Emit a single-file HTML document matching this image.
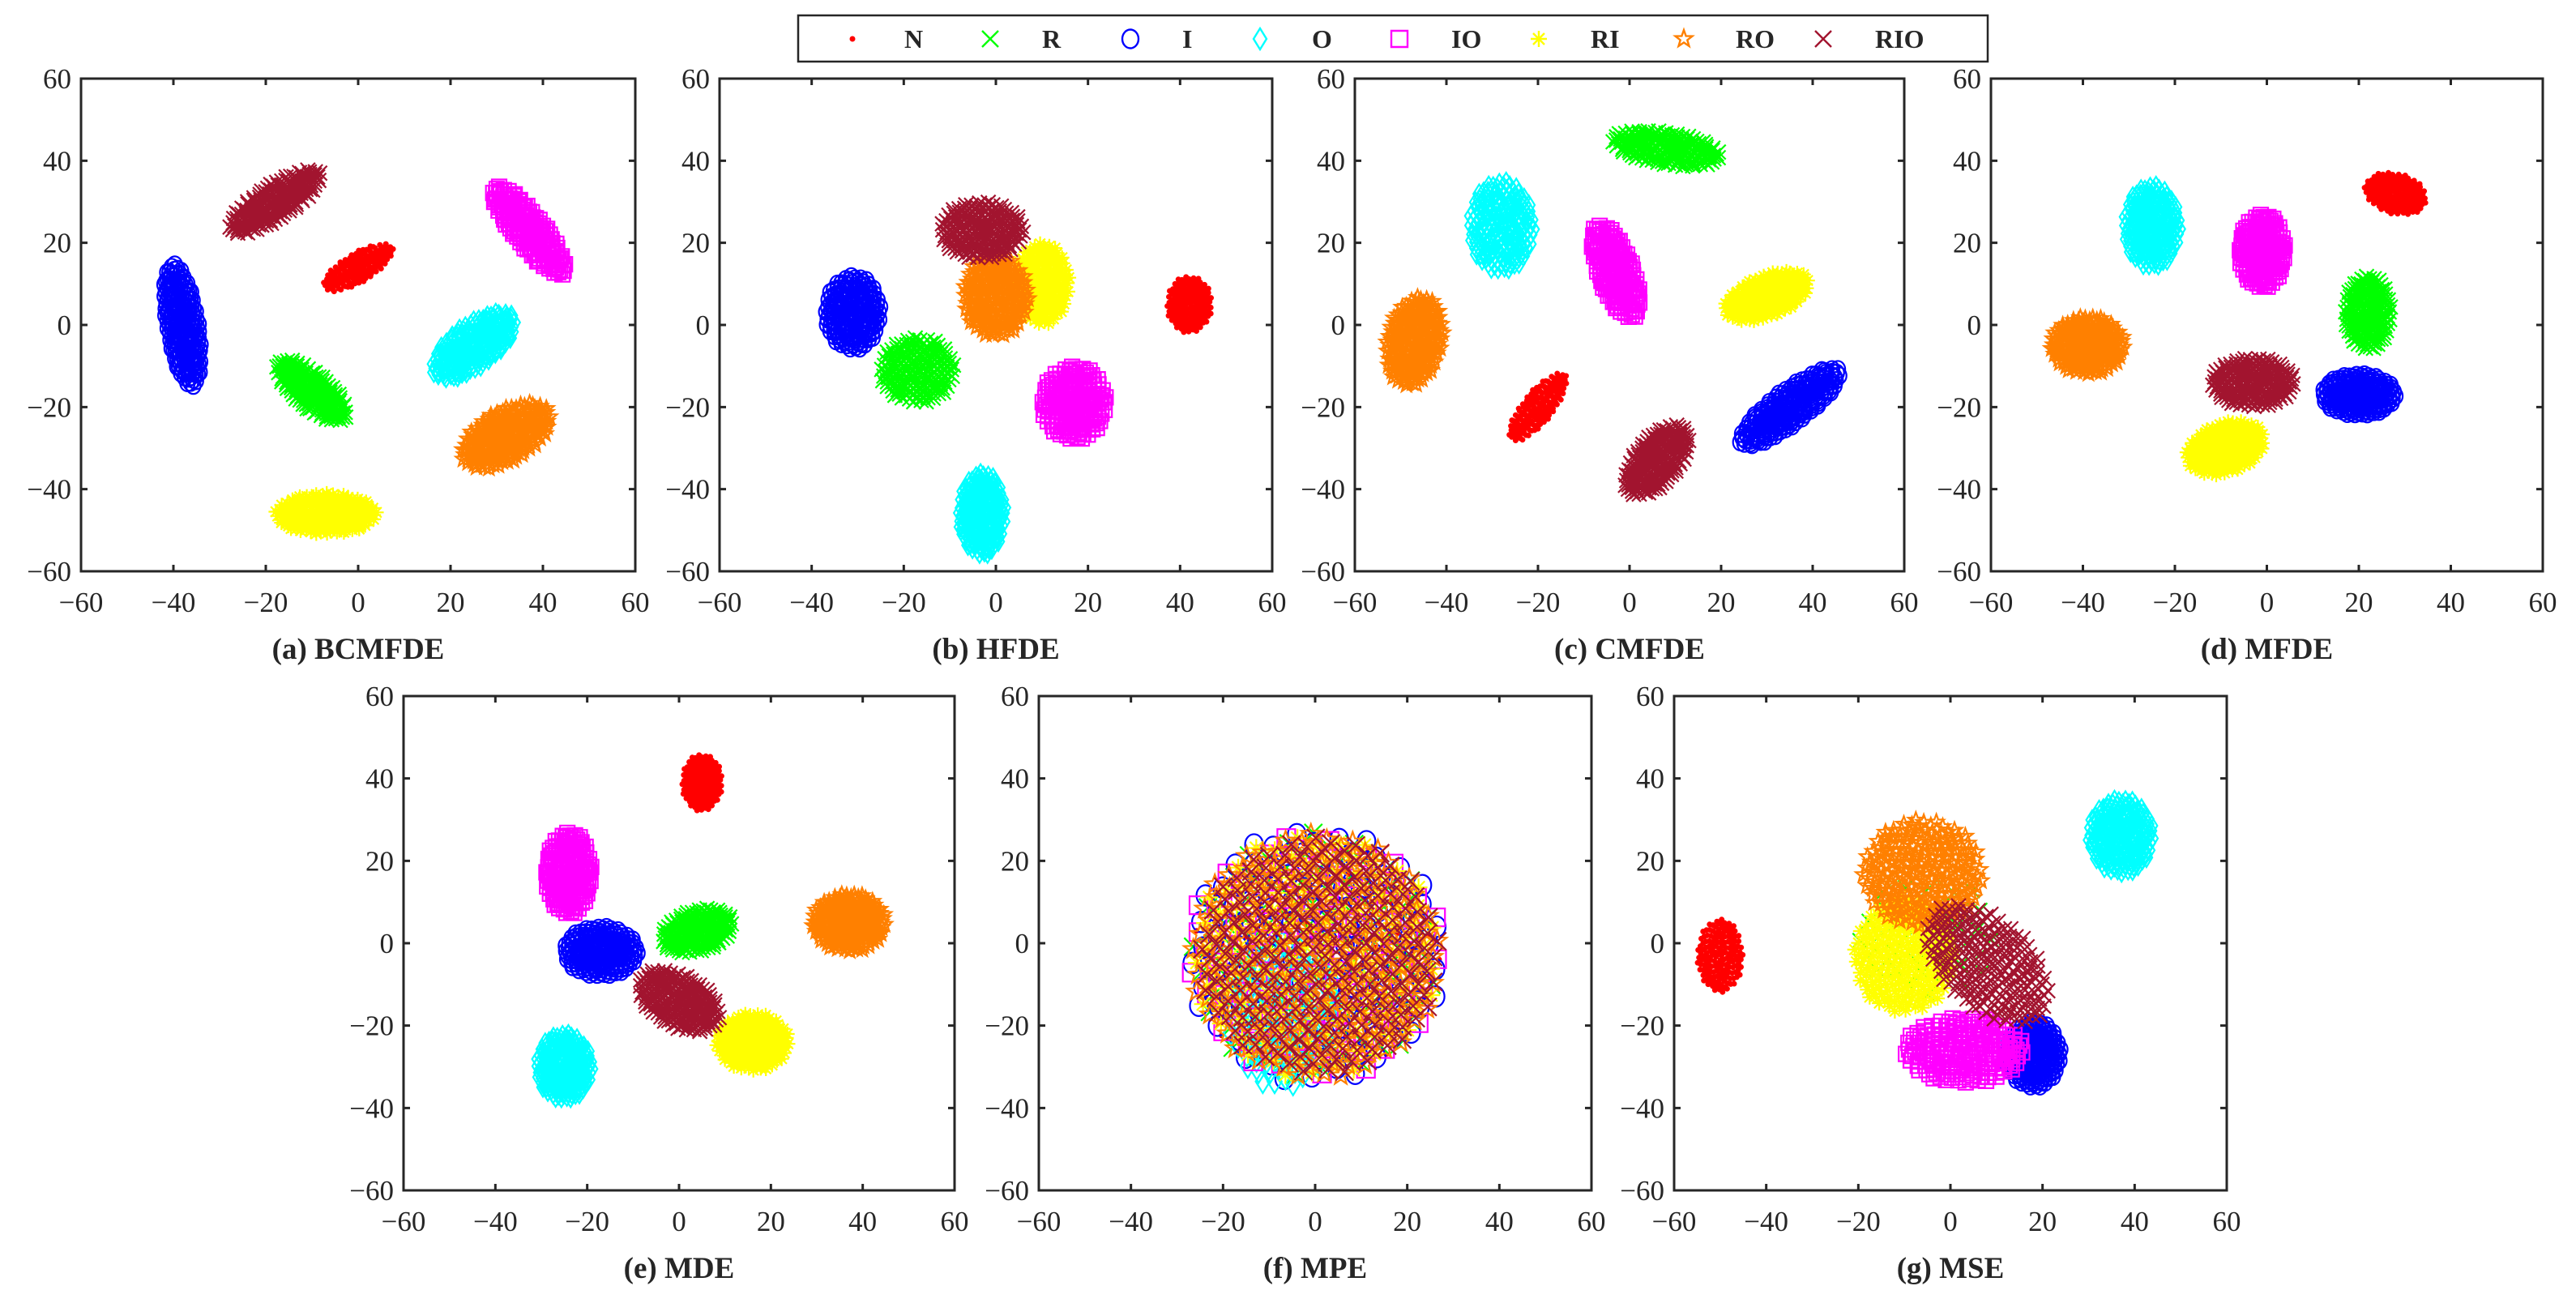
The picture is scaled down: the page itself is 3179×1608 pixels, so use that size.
<!DOCTYPE html>
<html><head><meta charset="utf-8">
<style>
html,body{margin:0;padding:0;background:#fff;}
svg{display:block;}
text{font-family:"Liberation Serif",serif;fill:#262626;}
</style></head>
<body>
<svg id="fig" width="3179" height="1608" viewBox="0 0 3179 1608" xmlns="http://www.w3.org/2000/svg">
<g id="legend"></g>
</svg>
<script>
// ---- data ----
const classNames = ["N","R","I","O","IO","RI","RO","RIO"];
const classColors = ["#ff0000","#00ff00","#0000ff","#00ffff","#ff00ff","#ffff00","#ff8000","#a2142f"];
const ticks = [-60,-40,-20,0,20,40,60];
const panelTitles = ["(a) BCMFDE","(b) HFDE","(c) CMFDE","(d) MFDE","(e) MDE","(f) MPE","(g) MSE"];
// cluster per class: [cx, cy, rx, ry, angleDeg, count]
const clustersA = [[0,14,9,3.5,35,160],[-10,-16,10,4,-45,170],[-38,0,15,3.5,-82,200],[25,-5,11,5,40,200],[37,23,13,3.5,-55,180],[-7,-46,11,5,0,200],[32,-27,11,6,35,200],[-18,30,12,4,37,180]];
const clustersB = [[42,5,5,7,0,140],[-17,-11,8,8,0,170],[-31,3,6,9,0,170],[-3,-46,5,10,0,170],[17,-19,7,9,0,170],[10,10,6,10,0,170],[0,7,7,10,0,180],[-3,23,9,7,0,180]];
const clustersC = [[-20,-20,10,3.5,55,160],[8,43,12,4,-10,190],[35,-20,14,4,40,200],[-28,24,7,11,0,180],[-3,13,12,4,-72,170],[30,7,10,5,25,190],[-47,-4,6,11,-10,190],[6,-33,10,5,55,190]];
const clustersD = [[28,32,7,5,-20,150],[22,3,5,9,0,170],[20,-17,8,5,0,180],[-25,24,6,10,0,180],[-1,18,5,9,0,170],[-9,-30,9,6,25,190],[-39,-5,8,7,0,190],[-3,-14,9,6,0,190]];
const clustersE = [[5,39,4.5,7,0,140],[4,3,8,5,20,170],[-17,-2,8,6,0,180],[-25,-30,6,8,0,180],[-24,17,5,10,0,170],[16,-24,8,7,0,190],[37,5,8,7,0,190],[0,-14,10,6,-35,190]];
const clustersF = [[0,-3,27,30,0,90],[0,-3,27,30,0,110],[0,-3,28,31,0,140],[-7,-17,12,18,0,120],[0,-3,28,30,0,100],[0,-3,27,30,0,140],[0,-3,27,30,0,260],[1,-3,26,29,0,260]];
const clustersG = [[-50,-3,5,9,0,150],[-5,2,15,15,0,40],[18,-27,6,8,0,170],[37,26,7,9,0,190],[3,-26,13,8,0,190],[-10,-3,11,14,0,200],[-6,17,13,13,0,220],[8,-5,17,10,-50,200]];
const panelClusters = [clustersA,clustersB,clustersC,clustersD,clustersE,clustersF,clustersG];
// ---- layout ----
const panelBoxes = [[100,97,684,608],[888,97,682,608],[1672,97,678,608],[2457,97,681,608],[498,859,680,610],[1282,859,682,610],[2066,859,682,610]];
const NS="http://www.w3.org/2000/svg";
const fig=document.getElementById('fig');
function mk(tag,attrs,parent){const e=document.createElementNS(NS,tag);for(const k in attrs)e.setAttribute(k,attrs[k]);parent.appendChild(e);return e;}
function markerPath(t,x,y,s){
  switch(t){
    case 0: return `M${x-3},${y}a3,3 0 1,0 6,0a3,3 0 1,0 -6,0`;
    case 1: case 7: return `M${x-s},${y-s}L${x+s},${y+s}M${x-s},${y+s}L${x+s},${y-s}`;
    case 2: return `M${x-s},${y}a${s},${s*1.15} 0 1,0 ${2*s},0a${s},${s*1.15} 0 1,0 ${-2*s},0`;
    case 3: return `M${x},${y-s*1.3}L${x+s*0.8},${y}L${x},${y+s*1.3}L${x-s*0.8},${y}Z`;
    case 4: return `M${x-s},${y-s}h${2*s}v${2*s}h${-2*s}Z`;
    case 5: return `M${x-s},${y}H${x+s}M${x},${y-s}V${y+s}M${x-s*0.7},${y-s*0.7}L${x+s*0.7},${y+s*0.7}M${x-s*0.7},${y+s*0.7}L${x+s*0.7},${y-s*0.7}`;
    case 6: { let p='';for(let k=0;k<10;k++){const r=k%2?s*0.45:s*1.1;const a=-Math.PI/2+k*Math.PI/5;p+=(k?'L':'M')+(x+r*Math.cos(a)).toFixed(1)+','+(y+r*Math.sin(a)).toFixed(1);}return p+'Z';}
  }
}
panelBoxes.forEach((b,pi)=>{
  const [L,T,W,H]=b;
  const g=mk('g',{},fig);
  
  
  const sx=v=>L+(v+60)/120*W, sy=v=>T+(60-v)/120*H;
  const cl=panelClusters[pi];
  cl.forEach((c,ci)=>{
    const [cx,cy,rx,ry,ang,n]=c;
    const a=ang*Math.PI/180;let d='';
    for(let i=0;i<n;i++){
      const r=Math.sqrt((i+0.5)/n), th=i*2.399963;
      const u=r*rx*Math.cos(th), v=r*ry*Math.sin(th);
      const dx=cx+u*Math.cos(a)-v*Math.sin(a), dy=cy+u*Math.sin(a)+v*Math.cos(a);
      d+=markerPath(ci,+sx(dx).toFixed(1),+sy(dy).toFixed(1),pi==5?11:9);
    }
    const p=mk('path',{d:d,fill:ci==0?classColors[0]:'none',stroke:classColors[ci],'stroke-width':ci==0?1:2.2},g);
    
    
  });
  const box=mk('rect',{x:L,y:T,width:W,height:H,fill:'none',stroke:'#262626','stroke-width':3},g);
  
  
  ticks.forEach(t=>{
    const x=sx(t),y=sy(t);
    mk('path',{d:`M${x},${T+H}v-8M${x},${T}v8M${L},${y}h8M${L+W},${y}h-8`,stroke:'#262626','stroke-width':3},g);
    const lbl=(t<0?'\u2212':'')+Math.abs(t);
    const xt=mk('text',{x:x,y:T+H+50,'text-anchor':'middle','font-size':35},g);xt.textContent=lbl;
    
    
    const yt=mk('text',{x:L-12,y:y+12,'text-anchor':'end','font-size':35},g);yt.textContent=lbl;
    
    
  });
  const st=mk('text',{x:L+W/2,y:T+H+108,'text-anchor':'middle','font-size':37,'font-weight':'bold'},g);
  st.textContent=panelTitles[pi];
  
  
});
// legend
const lg=document.getElementById('legend');
fig.appendChild(lg);
mk('rect',{x:985,y:19,width:1468,height:57,fill:'#fff',stroke:'#262626','stroke-width':2.5},lg);
const legendX=[1052,1222,1395,1555,1727,1899,2078,2250];
classNames.forEach((nm,ci)=>{
  const e=mk('g',{},lg);
  
  
  mk('path',{d:markerPath(ci,legendX[ci],48,10),fill:ci==0?classColors[0]:'none',stroke:classColors[ci],'stroke-width':ci==0?1:2.4},e);
  const t=mk('text',{x:legendX[ci]+64,y:59,'font-size':32,'font-weight':'bold'},e);
  t.textContent=nm;
});
</script>
</body></html>
